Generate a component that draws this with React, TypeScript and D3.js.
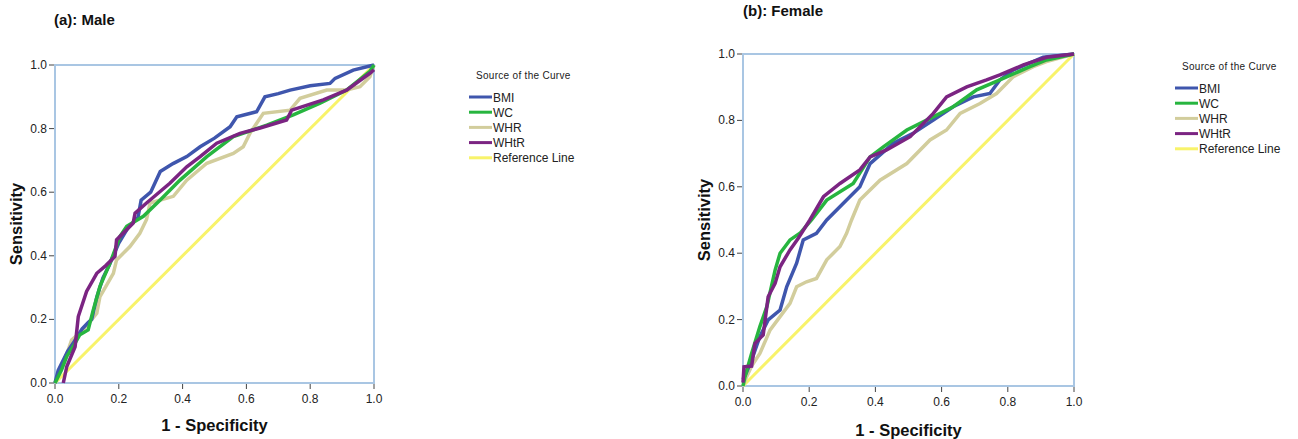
import React from "react";
import * as d3 from "d3";

type Pt = [number, number];

// ---- data (1 - specificity, sensitivity) ----
const seriesNames = ["BMI", "WC", "WHR", "WHtR"];
const legendLabels = ["BMI", "WC", "WHR", "WHtR", "Reference Line"];
const tickValues = [0, 0.2, 0.4, 0.6, 0.8, 1.0];
const referenceLine: Pt[] = [[0, 0], [1, 1]];

const maleBMI: Pt[] = [
  [0, 0], [0.01, 0.04], [0.021, 0.062], [0.04, 0.1], [0.06, 0.13], [0.085, 0.17], [0.104, 0.19],
  [0.115, 0.2], [0.131, 0.27], [0.15, 0.33], [0.17, 0.37], [0.2, 0.44], [0.23, 0.49],
  [0.26, 0.52], [0.27, 0.575], [0.3, 0.6], [0.33, 0.665], [0.37, 0.69], [0.413, 0.712],
  [0.455, 0.743], [0.5, 0.77], [0.549, 0.806], [0.57, 0.837], [0.632, 0.853], [0.658, 0.9],
  [0.7, 0.91], [0.737, 0.921], [0.8, 0.935], [0.862, 0.942], [0.878, 0.958], [0.935, 0.984],
  [0.987, 0.997], [1, 1],
];
const maleWC: Pt[] = [
  [0, 0], [0.02, 0.04], [0.037, 0.084], [0.06, 0.12], [0.078, 0.152], [0.104, 0.167],
  [0.12, 0.23], [0.141, 0.304], [0.172, 0.376], [0.204, 0.461], [0.225, 0.493],
  [0.277, 0.524], [0.329, 0.575], [0.392, 0.638], [0.476, 0.712], [0.559, 0.775],
  [0.664, 0.811], [0.747, 0.843], [0.831, 0.88], [0.914, 0.921], [0.987, 0.98], [1, 1],
];
const maleWHR: Pt[] = [
  [0, 0], [0.02, 0.05], [0.04, 0.1], [0.052, 0.135], [0.089, 0.167], [0.131, 0.219],
  [0.141, 0.272], [0.183, 0.345], [0.193, 0.387], [0.235, 0.429], [0.266, 0.471],
  [0.287, 0.514], [0.298, 0.566], [0.371, 0.587], [0.413, 0.638], [0.476, 0.691],
  [0.559, 0.722], [0.59, 0.743], [0.611, 0.785], [0.653, 0.848], [0.737, 0.858],
  [0.768, 0.895], [0.852, 0.921], [0.914, 0.921], [0.956, 0.932], [0.987, 0.963], [1, 1],
];
const maleWHtR: Pt[] = [
  [0.026, 0], [0.037, 0.052], [0.063, 0.114], [0.073, 0.209], [0.099, 0.288],
  [0.131, 0.345], [0.16, 0.37], [0.188, 0.398], [0.193, 0.45], [0.245, 0.503],
  [0.251, 0.534], [0.287, 0.566], [0.36, 0.628], [0.413, 0.68], [0.455, 0.712],
  [0.507, 0.754], [0.58, 0.785], [0.643, 0.802], [0.726, 0.827], [0.742, 0.858],
  [0.841, 0.89], [0.914, 0.921], [0.987, 0.974], [1, 0.985],
];

const femaleBMI: Pt[] = [
  [0, 0.02], [0.01, 0.04], [0.026, 0.078], [0.051, 0.149], [0.076, 0.199], [0.112, 0.229],
  [0.132, 0.299], [0.162, 0.37], [0.182, 0.44], [0.222, 0.46], [0.253, 0.5],
  [0.313, 0.56], [0.353, 0.6], [0.384, 0.67], [0.454, 0.731], [0.514, 0.761],
  [0.575, 0.801], [0.635, 0.841], [0.696, 0.871], [0.746, 0.881], [0.776, 0.922],
  [0.817, 0.952], [0.907, 0.99], [1, 1],
];
const femaleWC: Pt[] = [
  [0, 0], [0.006, 0.028], [0.026, 0.098], [0.051, 0.179], [0.072, 0.239], [0.097, 0.349],
  [0.112, 0.4], [0.142, 0.44], [0.172, 0.46], [0.207, 0.5], [0.253, 0.56], [0.333, 0.61],
  [0.384, 0.69], [0.424, 0.72], [0.495, 0.771], [0.555, 0.801], [0.635, 0.841],
  [0.706, 0.892], [0.776, 0.922], [0.867, 0.962], [0.917, 0.982], [1, 1],
];
const femaleWHR: Pt[] = [
  [0, 0], [0.011, 0.028], [0.026, 0.06], [0.051, 0.098], [0.082, 0.169], [0.112, 0.209],
  [0.142, 0.249], [0.162, 0.299], [0.192, 0.314], [0.222, 0.324], [0.253, 0.38],
  [0.293, 0.42], [0.313, 0.46], [0.328, 0.5], [0.353, 0.56], [0.414, 0.62], [0.495, 0.67],
  [0.565, 0.741], [0.615, 0.771], [0.656, 0.821], [0.716, 0.851], [0.766, 0.881],
  [0.817, 0.932], [0.877, 0.962], [0.917, 0.977], [1, 1],
];
const femaleWHtR: Pt[] = [
  [0, 0.01], [0.003, 0.058], [0.026, 0.06], [0.036, 0.128], [0.061, 0.154], [0.076, 0.269],
  [0.097, 0.309], [0.112, 0.359], [0.142, 0.41], [0.167, 0.445], [0.202, 0.5],
  [0.243, 0.57], [0.293, 0.61], [0.353, 0.651], [0.384, 0.69], [0.434, 0.711],
  [0.505, 0.751], [0.575, 0.821], [0.615, 0.871], [0.676, 0.901], [0.736, 0.922],
  [0.776, 0.937], [0.847, 0.967], [0.917, 0.99], [1, 1],
];

const colors = ["#3f56ad", "#27b53f", "#d2cd9c", "#7b2482", "#f8f36a"];
const FONT = "Arial, 'Liberation Sans', sans-serif";

type PanelProps = {
  title: string;
  curves: Pt[][];
  left: number; right: number; top: number; bottom: number;
  titleX: number; titleY: number;
  xLabelY: number; yLabelX: number;
  legendX: number; legendY: number;
};

const Panel = (p: PanelProps) => {
  const x = d3.scaleLinear().domain([0, 1]).range([p.left, p.right]);
  const y = d3.scaleLinear().domain([0, 1]).range([p.bottom, p.top]);
  const line = d3.line<Pt>().x((d) => x(d[0])).y((d) => y(d[1]));
  const fmt = d3.format(".1f");
  const frame = "#a9c6e3";
  // draw order: WHR, BMI, WC, WHtR on top
  const order = [2, 0, 1, 3];
  return (
    <g>
      <text x={p.titleX} y={p.titleY} fontFamily={FONT} fontWeight="bold" fontSize={15} fill="#111">
        {p.title}
      </text>
      <rect x={p.left} y={p.top} width={p.right - p.left} height={p.bottom - p.top}
        fill="none" stroke={frame} strokeWidth={2} />
      {tickValues.map((t) => (
        <g key={"x" + t}>
          <line x1={x(t)} x2={x(t)} y1={p.bottom + 1} y2={p.bottom + 6} stroke="#444" strokeWidth={1} />
          <text x={x(t)} y={p.bottom + 20} textAnchor="middle" fontFamily={FONT} fontSize={12} fill="#222">
            {fmt(t)}
          </text>
          <line x1={p.left - 6} x2={p.left - 1} y1={y(t)} y2={y(t)} stroke="#444" strokeWidth={1} />
          <text x={p.left - 8} y={y(t) + 4} textAnchor="end" fontFamily={FONT} fontSize={12} fill="#222">
            {fmt(t)}
          </text>
        </g>
      ))}
      <path d={line(referenceLine) || ""} fill="none" stroke={colors[4]} strokeWidth={3} />
      {order.map((i) => (
        <path key={seriesNames[i]} d={line(p.curves[i]) || ""} fill="none" stroke={colors[i]}
          strokeWidth={3.5} strokeLinejoin="miter" />
      ))}
      <text x={(p.left + p.right) / 2} y={p.xLabelY} textAnchor="middle" fontFamily={FONT}
        fontWeight="bold" fontSize={16.5} fill="#111">
        1 - Specificity
      </text>
      <text transform={`translate(${p.yLabelX},${(p.top + p.bottom) / 2}) rotate(-90)`} textAnchor="middle"
        fontFamily={FONT} fontWeight="bold" fontSize={16.5} fill="#111">
        Sensitivity
      </text>
      <text x={p.legendX + 7} y={p.legendY} fontFamily={FONT} fontSize={10} fill="#222" letterSpacing={0.3}>
        Source of the Curve
      </text>
      {legendLabels.map((lab, i) => {
        const cy = p.legendY + 18 + i * 15.2;
        return (
          <g key={lab}>
            <line x1={p.legendX} x2={p.legendX + 23} y1={cy} y2={cy} stroke={colors[i]} strokeWidth={3} />
            <text x={p.legendX + 24} y={cy + 4.5} fontFamily={FONT} fontSize={12} fill="#222">
              {lab}
            </text>
          </g>
        );
      })}
    </g>
  );
};

export default function App() {
  return (
    <svg width={1298} height={439} style={{ position: "absolute", left: 0, top: 0, background: "#fff" }}>
      <Panel title="(a): Male" curves={[maleBMI, maleWC, maleWHR, maleWHtR]}
        left={55} right={374} top={65} bottom={383}
        titleX={54} titleY={25} xLabelY={431} yLabelX={22}
        legendX={469} legendY={79} />
      <Panel title="(b): Female" curves={[femaleBMI, femaleWC, femaleWHR, femaleWHtR]}
        left={743} right={1074} top={54} bottom={386}
        titleX={743} titleY={16} xLabelY={436} yLabelX={710}
        legendX={1175} legendY={70} />
    </svg>
  );
}
